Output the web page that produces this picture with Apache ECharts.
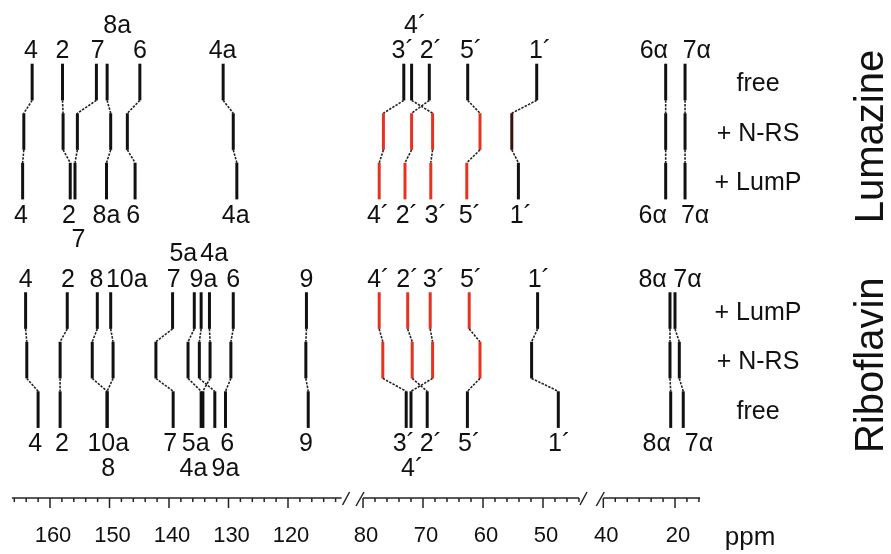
<!DOCTYPE html>
<html><head><meta charset="utf-8">
<script src="https://cdn.jsdelivr.net/npm/echarts@6/dist/echarts.min.js"></script>
<style>html,body{margin:0;padding:0;background:#fff}#c{width:891px;height:554px}</style>
</head><body><div id="c"></div>
<script>
// ===================== DATA (13C shifts, ppm) =====================
const lumRows = ['free', '+ N-RS', '+ LumP'];
const ribRows = ['+ LumP', '+ N-RS', 'free'];

const lumNames = ['4','2','7','8a','6','4a','4´','3´','2´','5´','1´','6α','7α'];
const lumFree  = [163.0,157.9,152.2,150.4,144.9,130.9,73.2,71.9,68.95,62.55,51.05,22.6,17.2];
const lumNRS   = [164.4,157.8,155.4,149.8,147.0,129.2,76.6,68.4,71.9,60.5,55.2,22.6,17.2];
const lumLumP  = [164.6,156.6,155.8,150.5,145.7,128.6,77.3,68.7,73.0,62.7,54.1,22.6,17.2];

const ribNames = ['4','2','8','10a','7','5a','9a','4a','6','9','4´','2´','3´','5´','1´','8α','7α'];
const ribLumP  = [164.1,157.1,152.05,149.8,139.4,135.75,134.6,133.2,129.2,116.9,77.3,72.55,68.8,62.3,50.9,21.4,20.0];
const ribNRS   = [163.9,158.3,152.9,149.4,142.2,136.8,134.9,133.1,129.6,117.0,76.7,71.8,68.4,60.5,51.9,21.4,18.8];
const ribFree  = [162.0,158.3,150.4,150.4,139.3,134.6,132.3,134.3,130.5,116.6,72.8,69.3,72.0,62.6,47.45,21.2,17.7];

// signals drawn in red when bound
const shiftedNames = ['4´','3´','2´','5´'];

// signal labels [text, ppm]
const lumLabelsTop  = [['4',163.2],['2',157.9],['7',152.0],['6',144.9],['4a',131.0],['3´',73.4],['2´',68.7],['5´',62.0],['1´',50.5],['6α',25.9],['7α',13.9]];
const lumLabelsTop2 = [['8a',148.7],['4´',71.3]];
const lumLabelsBot  = [['4',164.9],['2',156.8],['8a',150.5],['6',146.0],['4a',128.8],['4´',77.5],['2´',72.7],['3´',67.9],['5´',62.2],['1´',53.7],['6α',26.2],['7α',14.4]];
const lumLabelsBot2 = [['7',155.2]];

const ribLabelsTop  = [['4',164.1],['2',157.0],['8',152.2],['10a',147.1],['7',139.2],['9a',134.2],['6',129.2],['9',116.9],['4´',77.45],['2´',72.6],['3´',68.2],['5´',62.0],['1´',50.7],['8α',26.25],['7α',16.5]];
const ribLabelsTop2 = [['5a',137.6],['4a',132.4]];
const ribLabelsBot  = [['4',162.5],['2',158.0],['10a',150.2],['7',139.8],['5a',135.5],['6',130.2],['9',117.0],['3´',73.2],['2´',68.7],['5´',62.3],['1´',47.3],['8α',25.1],['7α',13.3]];
const ribLabelsBot2 = [['8',150.2],['4a',135.9],['9a',130.5],['4´',71.8]];

// broken ppm axis
const majorTicks = [[160,150,140,130,120],[80,70,60,50],[40,20]];
const tickLabels = [['160','150','140','130','120'],['80','70','60','50'],['40','20']];
const minorStep  = [2, 2, 10/3];
const axisUnit = 'ppm';

// ===================== LAYOUT / STYLE =====================
const FONT = '"Liberation Sans", Arial, Helvetica, sans-serif';
const RED = '#e6321f', BLACK = '#111', DARK = '#3c0f0b';
const segs = [
  {min:111, max:166.4, left:11.92, width:329.63, breakAfter:true},
  {min:44,  max:80,    left:363,   width:216,    breakBefore:true, breakAfter:true},
  {min:13,  max:40,    left:603.3, width:96.8,   breakBefore:true}
];
const Y = {min:-1.5, max:8.4};
const GRID_TOP = 7.75, GRID_BOTTOM = 56;
const HALF = 0.37;
const LV = {top:-0.62, top2:-1.13, bot:2.70, bot2:3.2};
const panels = [
  {base:0,     rows:[lumFree,lumNRS,lumLumP], names:lumNames, bound:[1,2], dark:[['1´',1]],
   labels:{top:lumLabelsTop, top2:lumLabelsTop2, bot:lumLabelsBot, bot2:lumLabelsBot2}},
  {base:4.615, rows:[ribLumP,ribNRS,ribFree], names:ribNames, bound:[0,1], dark:[],
   labels:{top:ribLabelsTop, top2:ribLabelsTop2, bot:ribLabelsBot, bot2:ribLabelsBot2}}
];
function segOf(p){ return p > 100 ? 0 : (p > 42 ? 1 : 2); }

// ---- build marks per segment ----
const lineData = [[],[],[]], lineMeta = [[],[],[]];
const textData = [[],[],[]], textMeta = [[],[],[]];
panels.forEach(P => {
  P.names.forEach((nm, i) => {
    for (let r = 0; r < P.rows.length; r++) {
      const p = P.rows[r][i], s = segOf(p), c = P.base + r;
      let col = BLACK;
      if (shiftedNames.includes(nm) && P.bound.includes(r)) col = RED;
      if (P.dark.some(d => d[0] === nm && d[1] === r)) col = DARK;
      lineData[s].push([p, c - HALF, p, c + HALF]);
      lineMeta[s].push({kind:'stick', color:col});
      if (r < P.rows.length - 1) {
        const q = P.rows[r+1][i];
        lineData[s].push([p, c + HALF, q, c + 1 - HALF]);
        lineMeta[s].push({kind:'conn'});
      }
    }
  });
  Object.keys(P.labels).forEach(lv => {
    P.labels[lv].forEach(([t, p]) => {
      const s = segOf(p);
      textData[s].push([p, P.base + LV[lv]]);
      textMeta[s].push(t);
    });
  });
});

const grids = [], xAxes = [], yAxes = [], series = [];
segs.forEach((S, k) => {
  grids.push({left:S.left, width:S.width, top:GRID_TOP, bottom:GRID_BOTTOM, containLabel:false});
  xAxes.push({type:'value', gridIndex:k, min:S.min, max:S.max, inverse:true, show:false});
  yAxes.push({type:'value', gridIndex:k, min:Y.min, max:Y.max, inverse:true, show:false});
  // sticks + connectors
  series.push({
    type:'custom', xAxisIndex:k, yAxisIndex:k, data:lineData[k], silent:true, animation:false,
    encode:{x:[0,2], y:[1,3]},
    renderItem:(params, api) => {
      const m = lineMeta[k][params.dataIndex];
      const a = api.coord([api.value(0), api.value(1)]);
      const b = api.coord([api.value(2), api.value(3)]);
      const style = m.kind === 'stick'
        ? {stroke:m.color, lineWidth:3, lineCap:'butt'}
        : {stroke:'#222', lineWidth:1.6, lineDash:[2.4,1.3], lineCap:'butt'};
      return {type:'line', shape:{x1:a[0], y1:a[1], x2:b[0], y2:b[1]}, style};
    }
  });
  // labels
  series.push({
    type:'custom', xAxisIndex:k, yAxisIndex:k, data:textData[k], silent:true, animation:false,
    renderItem:(params, api) => {
      const a = api.coord([api.value(0), api.value(1)]);
      return {type:'text', x:a[0], y:a[1], style:{text:textMeta[k][params.dataIndex], fill:'#111',
        font:'25px ' + FONT, align:'center', verticalAlign:'middle'}};
    }
  });
  // axis segment
  const majors = majorTicks[k], step = minorStep[k], minors = [];
  for (let v = majors[0] + step; v <= S.max + 1e-6; v += step) minors.push(v);
  for (let v = majors[0] - step; v >= S.min - 1e-6; v -= step) {
    if (!majors.some(m => Math.abs(m - v) < 1e-6)) minors.push(v);
  }
  series.push({
    type:'custom', xAxisIndex:k, yAxisIndex:k, data:[[S.min, Y.max]], silent:true, animation:false,
    renderItem:(params, api) => {
      const ch = [];
      const a = api.coord([S.max, Y.max]), b = api.coord([S.min, Y.max]);
      const y = a[1];
      const st = {stroke:'#222', lineWidth:1.5};
      ch.push({type:'line', shape:{x1:a[0], y1:y, x2:b[0], y2:y}, style:st});
      majors.forEach((v, j) => {
        const x = api.coord([v, Y.max])[0];
        ch.push({type:'line', shape:{x1:x, y1:y, x2:x, y2:y+10}, style:st});
        ch.push({type:'text', x:x+3, y:y+38, style:{text:tickLabels[k][j], font:'22px ' + FONT,
          fill:'#111', align:'center', verticalAlign:'middle'}});
      });
      minors.forEach(v => {
        const x = api.coord([v, Y.max])[0];
        ch.push({type:'line', shape:{x1:x, y1:y, x2:x, y2:y+4}, style:st});
      });
      if (S.breakAfter) ch.push({type:'line', shape:{x1:b[0]+1, y1:y+7, x2:b[0]+8, y2:y-6}, style:st});
      if (S.breakBefore) ch.push({type:'line', shape:{x1:a[0]-7, y1:y+8, x2:a[0]+1, y2:y-6}, style:st});
      return {type:'group', children:ch};
    }
  });
});

const chart = echarts.init(document.getElementById('c'), null, {renderer:'canvas'});
chart.setOption({animation:false, grid:grids, xAxis:xAxes, yAxis:yAxes, series});

// annotations (row conditions, panel names, unit)
const yPx = v => chart.convertToPixel({yAxisIndex:2}, v);
const graphics = [];
panels.forEach((P, pi) => {
  const names = pi === 0 ? lumRows : ribRows;
  names.forEach((t, r) => {
    graphics.push({type:'text', x:758, y:yPx(P.base + r + 0.05), silent:true,
      style:{text:t, font:'25px ' + FONT, fill:'#111', align:'center', verticalAlign:'middle'}});
  });
});
graphics.push({type:'text', x:872, y:yPx(1.1), rotation:Math.PI/2, silent:true,
  style:{text:'Lumazine', font:'40px ' + FONT, fill:'#111', align:'center', verticalAlign:'middle'}});
graphics.push({type:'text', x:872, y:yPx(5.72), rotation:Math.PI/2, silent:true,
  style:{text:'Riboflavin', font:'40px ' + FONT, fill:'#111', align:'center', verticalAlign:'middle'}});
graphics.push({type:'text', x:750, y:yPx(Y.max) + 40, silent:true,
  style:{text:axisUnit, font:'26px ' + FONT, fill:'#111', align:'center', verticalAlign:'middle'}});
chart.setOption({graphic:graphics});
</script></body></html>
